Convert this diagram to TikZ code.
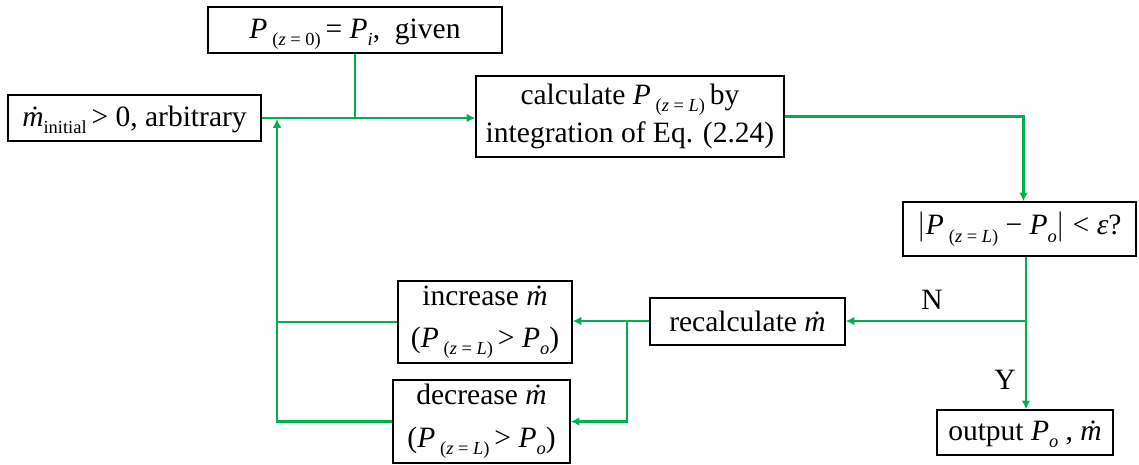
\documentclass[tikz,border=0pt]{standalone}
\usepackage{fontspec}
\setmainfont{Liberation Serif}
\usepackage{xcolor}
\definecolor{flowgreen}{HTML}{00B050}
\usepackage{tikz}
\usetikzlibrary{arrows.meta, positioning, calc}
\newcommand{\lowsub}[1]{\raisebox{-0.55ex}{\fontsize{10.5pt}{10.5pt}\selectfont #1}}
\newcommand{\mdot}{\textit{\.m}}
\newcommand{\Pzl}{\textit{P}\,\lowsub{(\textit{z} = \textit{L})}}

\begin{document}
\begin{tikzpicture}[x=0.02cm, y=-0.02cm,
    font=\fontsize{16.8pt}{22pt}\selectfont,
    box/.style={draw=black, line width=0.8pt, inner sep=2pt, align=center},
    line/.style={draw=flowgreen, line width=1.2pt},
    flow/.style={line, -{Latex[length=5pt, width=5pt]}}]
  \useasboundingbox (0,0) rectangle (1139,464);
  \node[box, minimum width=5.88cm, minimum height=0.92cm, text depth=2pt] (given) at (355,30)
    {\textit{P}\,\lowsub{(\textit{z} = 0)}\,= \textit{P}\lowsub{\textit{i}},\ \ given};
  \node[box, minimum width=5.06cm, minimum height=0.92cm, text depth=2pt] (init) at (134.5,118)
    {\mdot\lowsub{initial}\,> 0, arbitrary};
  \node[box, minimum width=6.16cm, minimum height=1.62cm] (calc) at (630,116.5)
    {calculate \Pzl\,by\\integration of Eq. (2.24)};
  \node[box, minimum width=4.66cm, minimum height=1.08cm] (check) at (1019.5,229)
    {$\Big|$\Pzl\ − \textit{P}\lowsub{\textit{o}}$\Big|$ < \textit{ε}?};
  \node[box, minimum width=3.52cm, minimum height=0.9cm, text depth=2pt] (output) at (1025,432.5)
    {output \textit{P}\lowsub{\textit{o}} , \mdot};
  \node[box, minimum width=3.9cm, minimum height=0.94cm] (recalc) at (747.5,321.5)
    {recalculate \mdot};
  \node[box, minimum width=3.48cm, minimum height=1.64cm] (incr) at (485,322)
    {increase \mdot\\[2pt](\Pzl\,> \textit{P}\lowsub{\textit{o}})};
  \node[box, minimum width=3.54cm, minimum height=1.66cm] (decr) at (481.5,421.5)
    {decrease \mdot\\[2pt](\Pzl\,> \textit{P}\lowsub{\textit{o}})};
  \node (no) at (932,300) {N};
  \node (yes) at (1005,380) {Y};

  \coordinate (split) at (1026,321);
  \coordinate (fork) at (627,321);
  \coordinate (back) at (277,119);

  \draw[flow] (init.east) -- (init.east -| calc.west);
  \draw[line] (given.south) -- (given.south |- init.east);
  \draw[flow] (calc.east) -| ([xshift=0.08cm]check.north);
  \draw[line] (check.south -| split) -- (split);
  \draw[flow] (split) -- (output.north -| split);
  \draw[flow] (split) -- (recalc.east |- split);
  \draw[line] (recalc.west |- fork) -- (fork);
  \draw[flow] (fork) -- (incr.east |- fork);
  \draw[flow] (fork) |- (decr.east);
  \draw[line] (incr.west) -- (incr.west -| back);
  \draw[flow] (decr.west) -| (back);
\end{tikzpicture}
\end{document}
